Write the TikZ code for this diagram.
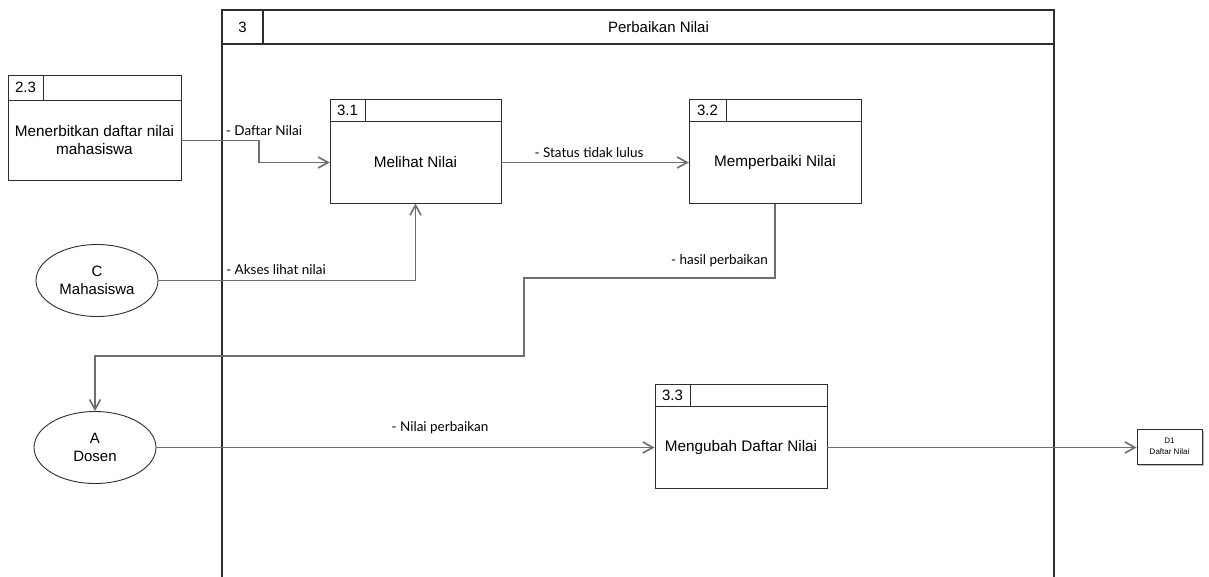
\documentclass[tikz,border=0pt]{standalone}
\usepackage{fontspec}
\setmainfont{Liberation Sans}
\newfontfamily\flowfont{Lato}
\usetikzlibrary{arrows.meta,calc,shapes.geometric,shadows}

\definecolor{edgegray}{HTML}{6E6E6E}
\definecolor{boxgray}{HTML}{2E2E2E}

\tikzset{
  procline/.style={draw=boxgray, line width=1pt},
  procbody/.style={procline, fill=white, inner sep=0pt},
  proctext/.style={inner sep=0pt, align=center, font=\fontsize{15.3}{18}\selectfont},
  idlabel/.style={inner sep=0pt, font=\fontsize{15}{18}\selectfont},
  entity/.style={ellipse, draw=boxgray, line width=0.9pt, fill=white, inner sep=0pt,
    minimum width=122pt, minimum height=72pt, align=center,
    font=\fontsize{15}{18}\selectfont},
  store/.style={draw=boxgray, line width=0.9pt, fill=white, inner sep=0pt,
    minimum width=65pt, minimum height=35pt, align=center,
    font=\fontsize{8}{11}\selectfont,
    drop shadow={shadow xshift=2pt, shadow yshift=-2pt, fill=black!45, opacity=0.6}},
  flow/.style={draw=edgegray, line width=1.6pt,
    -{Straight Barb[length=10pt,width=11pt,line width=1.6pt]}},
  flowlabel/.style={inner sep=0pt, font=\flowfont\fontsize{13.5}{16}\selectfont},
  frameline/.style={draw=boxgray, line width=1.2pt},
}

% process box: name, centre, width, height, header height, id cell width, id, text
\newcommand{\dfdproc}[8]{%
  \node[procbody, minimum width=#3, minimum height=#4] (#1) at (#2) {};
  \coordinate (#1-hl) at ([yshift=-#5]#1.north west);
  \coordinate (#1-hr) at ([yshift=-#5]#1.north east);
  \draw[procline] (#1-hl) -- (#1-hr);
  \draw[procline] ([xshift=#6]#1.north west) -- ([xshift=#6]#1-hl);
  \node[idlabel] (#1-id) at ($(#1.north west)!0.5!([xshift=#6]#1-hl)$) {#7};
  \node[proctext, minimum width=#3, minimum height=#4-#5] (#1-body)
    at ($(#1-hl)!0.5!(#1.south east)$) {#8};
}

\begin{document}
\begin{tikzpicture}[x=1pt,y=-1pt]
\useasboundingbox[fill=white] (0,0) rectangle (1209,576);

% outer frame of process 3, open at the bottom
\coordinate (fbl) at (222,577);
\coordinate (fbr) at (1054,577);
\coordinate (ftl) at (222,10);
\coordinate (ftr) at (1054,10);
\coordinate (fhl) at (222,44);
\coordinate (fhr) at (1054,44);
\coordinate (fid) at (263,10);
\draw[frameline] (fbl) -- (ftl) -- (ftr) -- (fbr);
\draw[frameline] (fhl) -- (fhr);
\draw[frameline] (fid) -- (fid |- fhl);
\node[idlabel] (frameid) at ($(ftl)!0.5!(fid |- fhl)$) {3};
\node[idlabel] (frametitle) at ($(fid)!0.5!(fhr)$) {Perbaikan Nilai};

% processes
\dfdproc{p23}{94.5,127.5}{173pt}{105pt}{26pt}{36pt}{2.3}{Menerbitkan daftar nilai\\mahasiswa}
\dfdproc{p31}{415.5,151}{171pt}{104pt}{23pt}{36pt}{3.1}{Melihat Nilai}
\dfdproc{p32}{775,151}{172pt}{104pt}{23pt}{38pt}{3.2}{Memperbaiki Nilai}
\dfdproc{p33}{741,436}{172pt}{104pt}{23pt}{36pt}{3.3}{Mengubah Daftar Nilai}

% external entities
\node[entity] (ellC) at (97,280.5) {C\\Mahasiswa};
\node[entity] (ellA) at (95,447.5) {A\\Dosen};

% data store
\node[store] (d1) at (1169.5,446.5) {D1\\Daftar Nilai};

% data flows
\draw[flow] (p23-body.east) -- ++(78,0) |- (p31-body.west);
\draw[flow] (p31-body.east) -- (p32-body.west);
\draw[flow] (ellC.east) -| (p31.south);
\coordinate (r1) at (524,278);
\coordinate (r2) at (524,356);
\draw[flow] (p32.south) |- (r1) -- (r2) -| (ellA.north);
\draw[flow] (ellA.east) -- (ellA.east -| p33.west);
\draw[flow] (p33-body.east) -- (p33-body.east -| d1.west);

% flow labels
\node[flowlabel] (l1) at (264,131) {- Daftar Nilai};
\node[flowlabel] (l2) at (589,153) {- Status tidak lulus};
\node[flowlabel] (l3) at (276,270) {- Akses lihat nilai};
\node[flowlabel, anchor=east] (l4) at (768,261) {- hasil perbaikan};
\node[flowlabel] (l5) at (440,428) {- Nilai perbaikan};
\end{tikzpicture}
\end{document}
